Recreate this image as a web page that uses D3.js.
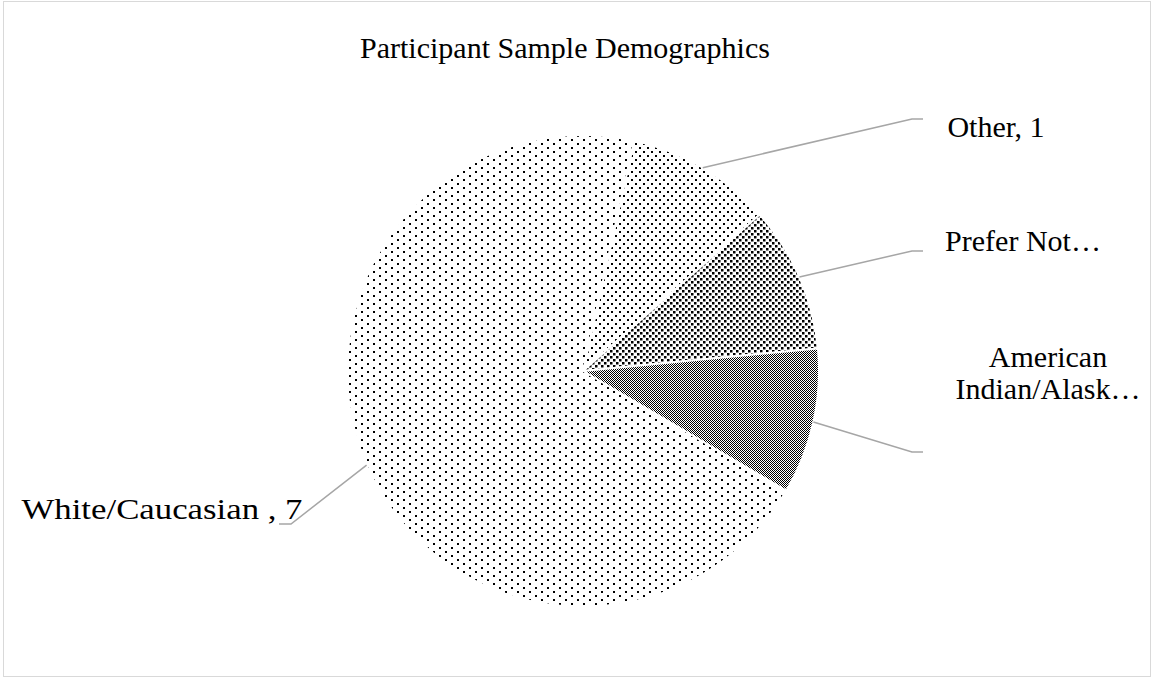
<!DOCTYPE html>
<html>
<head>
<meta charset="utf-8">
<script src="https://cdn.jsdelivr.net/npm/d3@7"></script>
<style>
  html, body { margin: 0; padding: 0; background: #fff; }
  svg { display: block; }
  text { font-family: "Liberation Serif", "Times New Roman", serif; fill: #000; }
</style>
</head>
<body>
<svg id="chart" width="1154" height="677"></svg>
<script>
// Participant race / ethnicity counts
const categories = ["Other", "Prefer Not to Answer", "American Indian/Alaska Native", "White/Caucasian "];
const counts = [1, 1, 1, 7];
// Data label text as shown beside each slice
const labelLines = [["Other, 1"], ["Prefer Not…"], ["American", "Indian/Alask…"], ["White/Caucasian , 7"]];
const title = "Participant Sample Demographics";

const W = 1154, H = 677;
const svg = d3.select("#chart");

// fill patterns for each slice
const defs = svg.append("defs");
function pattern(id, w, h, rects) {
  const p = defs.append("pattern").attr("id", id)
    .attr("patternUnits", "userSpaceOnUse").attr("width", w).attr("height", h);
  p.append("rect").attr("width", w).attr("height", h).attr("fill", "#fff");
  rects.forEach(r => p.append("rect").attr("x", r[0]).attr("y", r[1])
    .attr("width", r[2]).attr("height", r[3]).attr("fill", "#000"));
}
pattern("pOther", 8, 8, [[0, 0, 2, 2], [4, 4, 2, 2]]);
pattern("pPrefer", 6, 6, [[0, 0, 2.5, 2.5], [3, 3, 2.5, 2.5]]);
pattern("pAmInd", 2, 2, [[0, 0, 1, 1], [1, 1, 1, 1]]);
pattern("pWhite", 12, 8, [[0, 0, 2, 2], [6, 4, 2, 2]]);
const fills = ["url(#pOther)", "url(#pPrefer)", "url(#pAmInd)", "url(#pWhite)"];

// chart area border
svg.append("rect").attr("x", 3.5).attr("y", 1.5).attr("width", 1147).attr("height", 675)
  .attr("fill", "none").attr("stroke", "#d9d9d9").attr("stroke-width", 1);

// title
svg.append("text").attr("x", 565).attr("y", 58).attr("text-anchor", "middle")
  .style("font-size", "30px").text(title);

const cx = 583, cy = 371, R = 236;
const startAngle = 12.5 * Math.PI / 180;
const pie = d3.pie().sort(null).value(d => d)
  .startAngle(startAngle).endAngle(startAngle + 2 * Math.PI);
const arcs = pie(counts);
const arc = d3.arc().innerRadius(0).outerRadius(R);

const g = svg.append("g").attr("transform", `translate(${cx},${cy})`);
g.selectAll("path.slice").data(arcs).join("path")
  .attr("class", "slice")
  .attr("d", arc)
  .attr("fill", (d, i) => fills[i])
  .attr("stroke", "#fff").attr("stroke-width", 2).attr("stroke-linejoin", "round");

// leader lines: from slice edge midpoint to an elbow next to the label
const elbows = [[912, 119, 923], [912, 251, 923], [912, 452, 923], [291, 524, 279]];
arcs.forEach((d, i) => {
  const a = (d.startAngle + d.endAngle) / 2;
  const x0 = cx + R * Math.sin(a), y0 = cy - R * Math.cos(a);
  const e = elbows[i];
  svg.append("path")
    .attr("d", d3.line()([[x0, y0], [e[0], e[1]], [e[2], e[1]]]))
    .attr("fill", "none").attr("stroke", "#a6a6a6").attr("stroke-width", 1.5);
});

// data labels (the last one is set a little wider)
const labelPos = [[996, 137], [1023, 251], [1048, 367], [162, 519]];
const labelWidth = [null, null, null, 281];
labelLines.forEach((lines, i) => {
  const t = svg.append("text").attr("text-anchor", "middle").style("font-size", "30px");
  lines.forEach((s, j) => {
    const ts = t.append("tspan")
      .attr("x", labelPos[i][0]).attr("y", labelPos[i][1] + j * 32).text(s);
    if (labelWidth[i]) ts.attr("textLength", labelWidth[i]).attr("lengthAdjust", "spacingAndGlyphs");
  });
});
</script>
</body>
</html>
